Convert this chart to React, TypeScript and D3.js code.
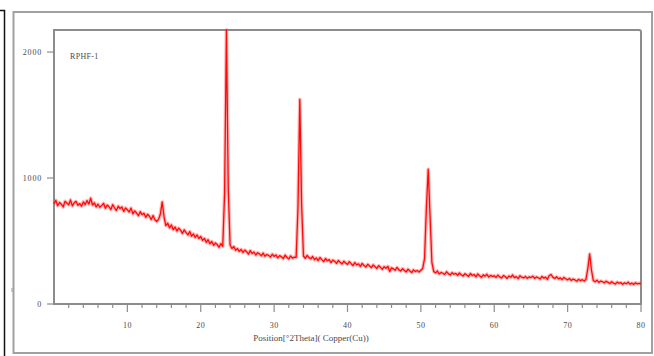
import React from "react";
import * as d3 from "d3";

// XRD scan: start angle, step (°2θ) and measured counts
const scanStart = 0;
const scanStep = 0.25;
const counts: number[] = [
  // 0.00 – 4.75
  795, 822, 780, 806, 792, 770, 815, 801, 788, 826, 779, 803, 815, 784, 797, 776, 810, 789, 821, 794,
  // 5.00 – 9.75
  840, 786, 803, 771, 792, 768, 781, 799, 760, 785, 772, 750, 789, 764, 742, 776, 758, 770, 735, 762,
  // 10.00 – 14.75
  748, 730, 761, 716, 739, 722, 701, 733, 709, 720, 688, 712, 697, 671, 702, 668, 655, 672, 715, 810,
  // 15.00 – 19.75
  690, 622, 641, 604, 628, 590, 611, 579, 602, 586, 561, 588, 566, 549, 575, 538, 556, 529, 548, 520,
  // 20.00 – 24.75
  536, 505, 521, 490, 510, 478, 496, 466, 484, 472, 450, 479, 458, 880, 2175, 910, 468, 441, 456, 426,
  // 25.00 – 29.75
  440, 418, 433, 409, 428, 415, 396, 424, 401, 412, 389, 407, 398, 382, 404, 379, 393, 386, 372, 395,
  // 30.00 – 34.75
  378, 389, 366, 384, 375, 360, 388, 369, 358, 381, 364, 372, 370, 760, 1625, 780, 381, 362, 386, 368,
  // 35.00 – 39.75
  359, 377, 351, 366, 344, 369, 352, 337, 361, 343, 352, 329, 348, 339, 322, 345, 331, 318, 339, 326,
  // 40.00 – 44.75
  314, 336, 320, 305, 329, 311, 318, 299, 322, 306, 294, 315, 301, 289, 310, 297, 282, 304, 291, 276,
  // 45.00 – 49.75
  296, 284, 299, 258, 287, 279, 268, 290, 271, 262, 281, 266, 255, 276, 262, 250, 271, 258, 266, 254,
  // 50.00 – 54.75
  268, 282, 360, 760, 1070, 700, 330, 258, 247, 262, 239, 251, 244, 235, 256, 241, 230, 249, 236, 243,
  // 55.00 – 59.75
  228, 246, 233, 222, 240, 231, 219, 242, 226, 234, 216, 238, 225, 212, 231, 221, 236, 214, 227, 219,
  // 60.00 – 64.75
  224, 211, 229, 215, 206, 226, 218, 203, 222, 212, 230, 209, 217, 201, 224, 213, 207, 219, 204, 215,
  // 65.00 – 69.75
  210, 221, 203, 215, 208, 198, 219, 206, 213, 196, 226, 234, 211, 203, 216, 199, 207, 194, 211, 200,
  // 70.00 – 74.75
  192, 203, 187, 198, 191, 181, 196, 185, 193, 182, 195, 280, 397, 270, 186, 176, 189, 171, 182, 177,
  // 75.00 – 79.75
  168, 181, 172, 163, 177, 166, 159, 174, 165, 170, 156, 168, 161, 173, 158, 166, 155, 169, 160, 164,
  // 80.00
  162,
];

const xMajorTicks = [10, 20, 30, 40, 50, 60, 70, 80];
const xMinorTicks = [2, 4, 6, 8, 12, 14, 16, 18, 22, 24, 26, 28, 32, 34, 36, 38, 42, 44, 46, 48, 52, 54, 56, 58, 62, 64, 66, 68, 72, 74, 76, 78];
const yTicks = [0, 1000, 2000];
const sampleName = "RPHF-1";
const xTitle = "Position[°2Theta]( Copper(Cu))";

const W = 654;
const H = 356;
const plot = { left: 54, top: 30, right: 641, bottom: 304 };

export default function App() {
  const x = d3.scaleLinear().domain([0, 80]).range([plot.left, plot.right]);
  const y = d3.scaleLinear().domain([0, 2175]).range([plot.bottom, plot.top]);
  const pts: [number, number][] = counts.map((c, i) => [scanStart + i * scanStep, c]);
  const line = d3
    .line<[number, number]>()
    .x((d) => x(d[0]))
    .y((d) => y(d[1]));
  const font = "'Liberation Serif', 'DejaVu Serif', serif";
  const textColor = "#4a4a4a";
  const axisColor = "#8c8c8c";
  const pathD = line(pts) || "";

  return (
    <svg
      width={W}
      height={H}
      style={{ position: "absolute", left: 0, top: 0, background: "#fff" }}
    >
      {/* outer black bracket */}
      <path d="M0,10.5 H4.5 V356" fill="none" stroke="#111" strokeWidth={1.5} />
      <line x1={12} x2={12} y1={288} y2={292} stroke="#999" strokeWidth={1} />
      {/* outer gray frame */}
      <rect x={13.5} y={12} width={652 - 13.5} height={353 - 12} fill="none" stroke="#a0a0a0" strokeWidth={2} />
      {/* plot frame */}
      <path
        d={`M${plot.left},${plot.bottom} V${plot.top} H${plot.right - 2} Q${plot.right},${plot.top} ${plot.right},${plot.top + 2} V${plot.bottom} Z`}
        fill="none"
        stroke={axisColor}
        strokeWidth={2}
      />
      {/* sample name */}
      <text x={70} y={58.5} fontFamily={font} fontSize={8} fill={textColor} letterSpacing={0.3}>
        {sampleName}
      </text>
      {/* data: soft halo + core line */}
      <path d={pathD} fill="none" stroke="#ff3030" strokeOpacity={0.35} strokeWidth={3.6} strokeLinejoin="round" />
      <path d={pathD} fill="none" stroke="#ff0a0a" strokeWidth={1.3} strokeLinejoin="round" />
      {/* y ticks */}
      {yTicks.map((t) => (
        <g key={"y" + t}>
          <line x1={plot.left - 7} x2={plot.left} y1={y(t)} y2={y(t)} stroke={axisColor} strokeWidth={1.2} />
          <text
            x={plot.left - 12}
            y={y(t)}
            dy="0.33em"
            textAnchor="end"
            fontFamily={font}
            fontSize={8}
            fill={textColor}
            letterSpacing={0.8}
          >
            {t}
          </text>
        </g>
      ))}
      {/* x ticks */}
      {xMinorTicks.map((t) => (
        <line key={"m" + t} x1={x(t)} x2={x(t)} y1={plot.bottom} y2={plot.bottom + 4} stroke={axisColor} strokeWidth={1.2} />
      ))}
      {xMajorTicks.map((t) => (
        <g key={"x" + t}>
          <line x1={x(t)} x2={x(t)} y1={plot.bottom} y2={plot.bottom + 8} stroke={axisColor} strokeWidth={1.2} />
          <text
            x={x(t)}
            y={plot.bottom + 24}
            textAnchor="middle"
            fontFamily={font}
            fontSize={8}
            fill={textColor}
            letterSpacing={0.5}
          >
            {t}
          </text>
        </g>
      ))}
      {/* x title */}
      <text x={311} y={341} textAnchor="middle" fontFamily={font} fontSize={9} fill={textColor}>
        {xTitle}
      </text>
    </svg>
  );
}
